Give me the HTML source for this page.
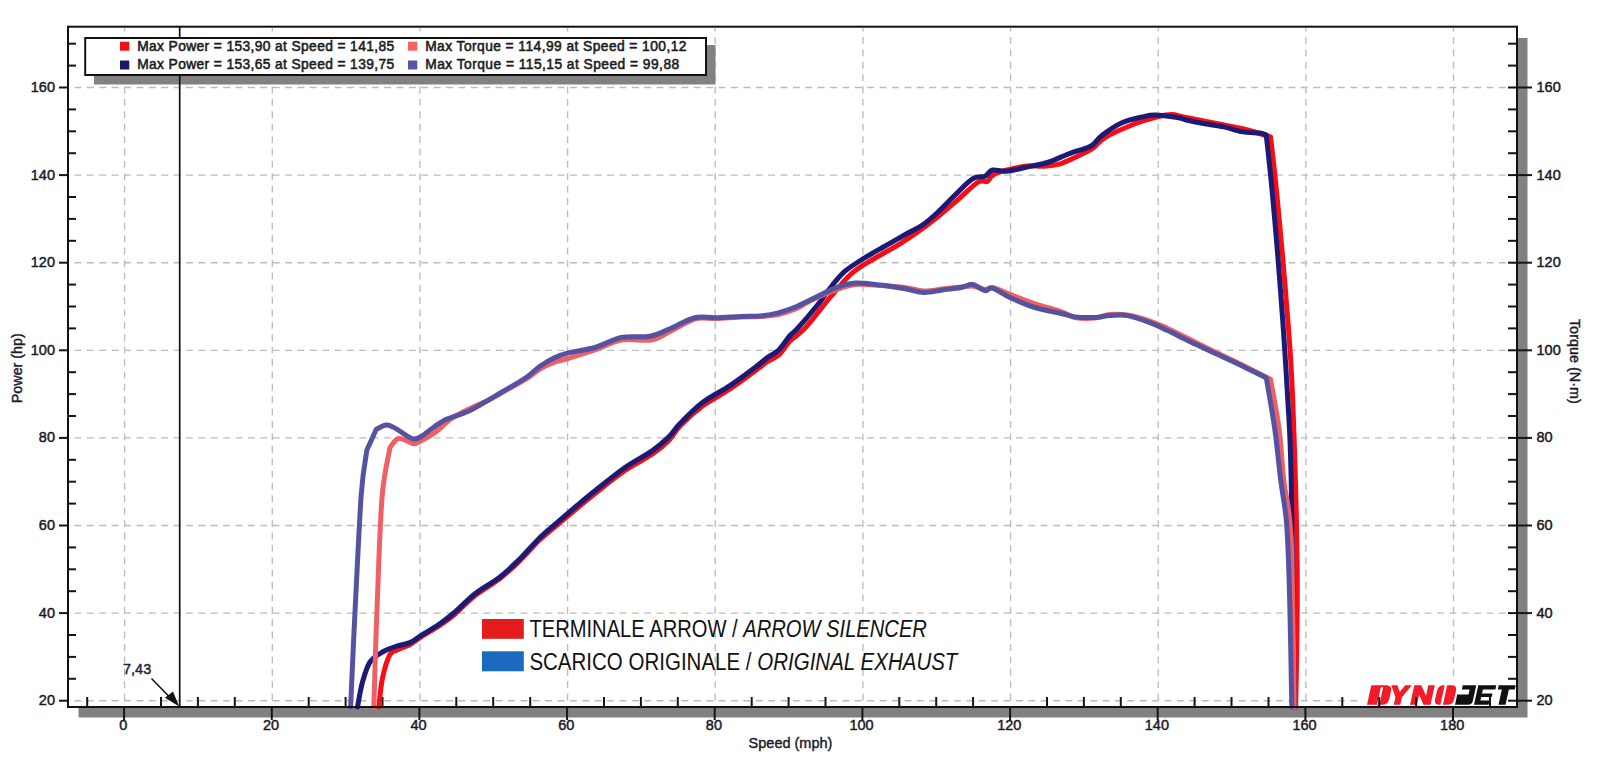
<!DOCTYPE html>
<html><head><meta charset="utf-8"><style>
html,body{margin:0;padding:0;background:#fff;width:1600px;height:763px;overflow:hidden}
svg{display:block}
text{font-family:"Liberation Sans", sans-serif}
</style></head><body>
<svg width="1600" height="763" viewBox="0 0 1600 763">
<rect x="0" y="0" width="1600" height="763" fill="#fff"/>
<rect x="78.5" y="38" width="1449" height="679.5" fill="#818181"/>
<rect x="68" y="26.7" width="1449" height="680.3" fill="#fff"/>

<g stroke="#bcbcbc" stroke-width="1.35" stroke-dasharray="6.9 5.487" fill="none"><line x1="124.6" y1="28" x2="124.6" y2="706" stroke-dashoffset="3.35"/><line x1="272.3" y1="28" x2="272.3" y2="706" stroke-dashoffset="3.35"/><line x1="419.9" y1="28" x2="419.9" y2="706" stroke-dashoffset="3.35"/><line x1="567.6" y1="28" x2="567.6" y2="706" stroke-dashoffset="3.35"/><line x1="715.2" y1="28" x2="715.2" y2="706" stroke-dashoffset="3.35"/><line x1="862.9" y1="28" x2="862.9" y2="706" stroke-dashoffset="3.35"/><line x1="1010.6" y1="28" x2="1010.6" y2="706" stroke-dashoffset="3.35"/><line x1="1158.2" y1="28" x2="1158.2" y2="706" stroke-dashoffset="3.35"/><line x1="1305.9" y1="28" x2="1305.9" y2="706" stroke-dashoffset="3.35"/><line x1="1453.5" y1="28" x2="1453.5" y2="706" stroke-dashoffset="3.35"/><line x1="70" y1="700.7" x2="1516" y2="700.7" stroke-dashoffset="7.9"/><line x1="70" y1="613.1" x2="1516" y2="613.1" stroke-dashoffset="7.9"/><line x1="70" y1="525.5" x2="1516" y2="525.5" stroke-dashoffset="7.9"/><line x1="70" y1="437.9" x2="1516" y2="437.9" stroke-dashoffset="7.9"/><line x1="70" y1="350.3" x2="1516" y2="350.3" stroke-dashoffset="7.9"/><line x1="70" y1="262.7" x2="1516" y2="262.7" stroke-dashoffset="7.9"/><line x1="70" y1="175.1" x2="1516" y2="175.1" stroke-dashoffset="7.9"/><line x1="70" y1="87.5" x2="1516" y2="87.5" stroke-dashoffset="7.9"/></g>
<rect x="1362" y="681" width="154" height="25" fill="#fff"/>
<g transform="matrix(1,0,-0.22,1,4.29,685.2)" fill-rule="evenodd">
<path fill="#f31a2a" d="M1367,0 H1382 Q1388,0 1388,6 V13.5 Q1388,19.5 1382,19.5 H1367 Z M1377,2 H1379.3 V20 H1377 Z"/>
<path fill="#f31a2a" d="M1387,0 H1393 L1397,6.5 L1401,0 H1407.5 L1400.3,12 V19.5 H1393.8 V12 Z"/>
<path fill="#f31a2a" d="M1410,0 H1417 L1424,10.5 V0 H1430.5 V19.5 H1423.5 L1417,9.5 V19.5 H1410 Z"/>
<path fill="#f31a2a" d="M1439.4,0 H1440.4 V19.5 H1439.4 Q1433.9,19.5 1433.9,14 V5.5 Q1433.9,0 1439.4,0 Z M1442.9,0 H1447.4 Q1452.9,0 1452.9,5.5 V14 Q1452.9,19.5 1447.4,19.5 H1442.9 Z"/>
<path fill="#111" d="M1458.5,0 H1472 V15.5 Q1472,19.5 1468,19.5 H1455 V9.4 H1466.3 V4.2 H1458.5 Z"/>
<path fill="#111" d="M1474,0 H1492 V4.2 H1479.5 V8.3 H1490 V11.8 H1479.5 V15.3 H1488.6 V19.5 H1474 Z"/>
<path fill="#111" d="M1494.4,0 H1511.4 V4.2 H1505.5 V19.5 H1498.5 V4.2 H1494.4 Z"/>
</g>
<g stroke="#151515" stroke-width="2" fill="none"><line x1="59" y1="700.7" x2="68" y2="700.7"/><line x1="1508" y1="700.7" x2="1532" y2="700.7"/><line x1="68" y1="678.8" x2="76" y2="678.8"/><line x1="1508" y1="678.8" x2="1517" y2="678.8"/><line x1="68" y1="656.9" x2="76" y2="656.9"/><line x1="1508" y1="656.9" x2="1517" y2="656.9"/><line x1="68" y1="635.0" x2="76" y2="635.0"/><line x1="1508" y1="635.0" x2="1517" y2="635.0"/><line x1="59" y1="613.1" x2="68" y2="613.1"/><line x1="1508" y1="613.1" x2="1532" y2="613.1"/><line x1="68" y1="591.2" x2="76" y2="591.2"/><line x1="1508" y1="591.2" x2="1517" y2="591.2"/><line x1="68" y1="569.3" x2="76" y2="569.3"/><line x1="1508" y1="569.3" x2="1517" y2="569.3"/><line x1="68" y1="547.4" x2="76" y2="547.4"/><line x1="1508" y1="547.4" x2="1517" y2="547.4"/><line x1="59" y1="525.5" x2="68" y2="525.5"/><line x1="1508" y1="525.5" x2="1532" y2="525.5"/><line x1="68" y1="503.6" x2="76" y2="503.6"/><line x1="1508" y1="503.6" x2="1517" y2="503.6"/><line x1="68" y1="481.7" x2="76" y2="481.7"/><line x1="1508" y1="481.7" x2="1517" y2="481.7"/><line x1="68" y1="459.8" x2="76" y2="459.8"/><line x1="1508" y1="459.8" x2="1517" y2="459.8"/><line x1="59" y1="437.9" x2="68" y2="437.9"/><line x1="1508" y1="437.9" x2="1532" y2="437.9"/><line x1="68" y1="416.0" x2="76" y2="416.0"/><line x1="1508" y1="416.0" x2="1517" y2="416.0"/><line x1="68" y1="394.1" x2="76" y2="394.1"/><line x1="1508" y1="394.1" x2="1517" y2="394.1"/><line x1="68" y1="372.2" x2="76" y2="372.2"/><line x1="1508" y1="372.2" x2="1517" y2="372.2"/><line x1="59" y1="350.3" x2="68" y2="350.3"/><line x1="1508" y1="350.3" x2="1532" y2="350.3"/><line x1="68" y1="328.4" x2="76" y2="328.4"/><line x1="1508" y1="328.4" x2="1517" y2="328.4"/><line x1="68" y1="306.5" x2="76" y2="306.5"/><line x1="1508" y1="306.5" x2="1517" y2="306.5"/><line x1="68" y1="284.6" x2="76" y2="284.6"/><line x1="1508" y1="284.6" x2="1517" y2="284.6"/><line x1="59" y1="262.7" x2="68" y2="262.7"/><line x1="1508" y1="262.7" x2="1532" y2="262.7"/><line x1="68" y1="240.8" x2="76" y2="240.8"/><line x1="1508" y1="240.8" x2="1517" y2="240.8"/><line x1="68" y1="218.9" x2="76" y2="218.9"/><line x1="1508" y1="218.9" x2="1517" y2="218.9"/><line x1="68" y1="197.0" x2="76" y2="197.0"/><line x1="1508" y1="197.0" x2="1517" y2="197.0"/><line x1="59" y1="175.1" x2="68" y2="175.1"/><line x1="1508" y1="175.1" x2="1532" y2="175.1"/><line x1="68" y1="153.2" x2="76" y2="153.2"/><line x1="1508" y1="153.2" x2="1517" y2="153.2"/><line x1="68" y1="131.3" x2="76" y2="131.3"/><line x1="1508" y1="131.3" x2="1517" y2="131.3"/><line x1="68" y1="109.4" x2="76" y2="109.4"/><line x1="1508" y1="109.4" x2="1517" y2="109.4"/><line x1="59" y1="87.5" x2="68" y2="87.5"/><line x1="1508" y1="87.5" x2="1532" y2="87.5"/><line x1="68" y1="65.6" x2="76" y2="65.6"/><line x1="1508" y1="65.6" x2="1517" y2="65.6"/><line x1="68" y1="43.7" x2="76" y2="43.7"/><line x1="1508" y1="43.7" x2="1517" y2="43.7"/><line x1="87.2" y1="697" x2="87.2" y2="707"/><line x1="124.1" y1="707" x2="124.1" y2="720"/><line x1="161.0" y1="697" x2="161.0" y2="707"/><line x1="197.9" y1="697" x2="197.9" y2="707"/><line x1="234.8" y1="697" x2="234.8" y2="707"/><line x1="271.8" y1="707" x2="271.8" y2="720"/><line x1="308.7" y1="697" x2="308.7" y2="707"/><line x1="345.6" y1="697" x2="345.6" y2="707"/><line x1="382.5" y1="697" x2="382.5" y2="707"/><line x1="419.4" y1="707" x2="419.4" y2="720"/><line x1="456.3" y1="697" x2="456.3" y2="707"/><line x1="493.2" y1="697" x2="493.2" y2="707"/><line x1="530.2" y1="697" x2="530.2" y2="707"/><line x1="567.1" y1="707" x2="567.1" y2="720"/><line x1="604.0" y1="697" x2="604.0" y2="707"/><line x1="640.9" y1="697" x2="640.9" y2="707"/><line x1="677.8" y1="697" x2="677.8" y2="707"/><line x1="714.7" y1="707" x2="714.7" y2="720"/><line x1="751.7" y1="697" x2="751.7" y2="707"/><line x1="788.6" y1="697" x2="788.6" y2="707"/><line x1="825.5" y1="697" x2="825.5" y2="707"/><line x1="862.4" y1="707" x2="862.4" y2="720"/><line x1="899.3" y1="697" x2="899.3" y2="707"/><line x1="936.2" y1="697" x2="936.2" y2="707"/><line x1="973.1" y1="697" x2="973.1" y2="707"/><line x1="1010.1" y1="707" x2="1010.1" y2="720"/><line x1="1047.0" y1="697" x2="1047.0" y2="707"/><line x1="1083.9" y1="697" x2="1083.9" y2="707"/><line x1="1120.8" y1="697" x2="1120.8" y2="707"/><line x1="1157.7" y1="707" x2="1157.7" y2="720"/><line x1="1194.6" y1="697" x2="1194.6" y2="707"/><line x1="1231.5" y1="697" x2="1231.5" y2="707"/><line x1="1268.5" y1="697" x2="1268.5" y2="707"/><line x1="1305.4" y1="707" x2="1305.4" y2="720"/><line x1="1342.3" y1="697" x2="1342.3" y2="707"/><line x1="1379.2" y1="697" x2="1379.2" y2="707"/><line x1="1416.1" y1="697" x2="1416.1" y2="707"/><line x1="1453.0" y1="707" x2="1453.0" y2="720"/><line x1="1490.0" y1="697" x2="1490.0" y2="707"/></g>
<g fill="none" stroke-width="5" stroke-linejoin="round" stroke-linecap="round">
<path d="M378.8,707.0 C379.4,702.2 380.6,686.8 382.5,678.0 C384.4,669.2 387.1,659.4 390.0,654.5 C392.9,649.6 396.7,650.6 400.0,648.9 C403.3,647.2 406.2,646.6 410.0,644.5 C413.8,642.4 417.7,639.1 422.5,636.0 C427.3,632.9 433.3,629.7 438.8,626.0 C444.2,622.3 449.0,619.1 455.0,614.0 C461.0,608.9 467.5,601.4 475.0,595.5 C482.5,589.6 492.5,584.3 500.0,578.5 C507.5,572.7 513.3,567.0 520.0,560.5 C526.7,554.0 533.5,545.7 540.0,539.5 C546.5,533.3 552.7,528.6 558.8,523.5 C564.8,518.4 569.8,514.3 576.2,509.0 C582.7,503.7 589.4,497.9 597.5,491.5 C605.6,485.1 615.8,476.8 625.0,470.5 C634.2,464.2 645.2,459.0 652.5,454.0 C659.8,449.0 664.2,445.2 668.8,440.5 C673.3,435.8 674.4,431.8 680.0,426.0 C685.6,420.2 694.2,412.2 702.5,406.0 C710.8,399.8 721.2,394.8 730.0,389.0 C738.8,383.2 748.8,375.6 755.0,371.0 C761.2,366.4 763.5,364.2 767.5,361.5 C771.5,358.8 775.0,358.4 778.8,355.0 C782.5,351.6 785.6,345.5 790.0,341.0 C794.4,336.5 798.3,335.4 805.0,328.1 C811.7,320.9 822.5,306.4 830.0,297.5 C837.5,288.6 843.8,280.8 850.0,275.0 C856.2,269.2 859.2,267.7 867.5,262.5 C875.8,257.3 891.9,248.7 900.0,243.8 C908.1,238.8 910.0,237.6 916.2,233.1 C922.5,228.6 930.8,222.3 937.5,217.0 C944.2,211.7 949.6,207.0 956.2,201.2 C962.9,195.5 972.3,185.8 977.5,182.5 C982.7,179.2 984.6,182.7 987.5,181.2 C990.4,179.8 988.8,176.2 995.0,173.8 C1001.2,171.2 1016.9,167.5 1025.0,166.2 C1033.1,165.0 1037.9,166.7 1043.8,166.2 C1049.6,165.8 1054.4,165.4 1060.0,163.8 C1065.6,162.1 1072.1,158.8 1077.5,156.2 C1082.9,153.7 1087.9,151.6 1092.5,148.5 C1097.1,145.4 1097.9,141.6 1105.0,137.5 C1112.1,133.4 1126.7,127.1 1135.0,123.8 C1143.3,120.4 1149.0,119.0 1155.0,117.5 C1161.0,116.0 1166.0,114.5 1171.2,114.5 C1176.5,114.5 1178.5,116.0 1186.2,117.5 C1194.0,119.0 1208.1,121.9 1217.5,123.8 C1226.9,125.6 1233.7,126.6 1242.5,128.8 C1251.3,130.9 1265.9,135.5 1270.6,136.9 C1271.6,146.6 1274.3,167.8 1276.9,195.0 C1279.5,222.2 1283.7,266.7 1286.2,300.0 C1288.8,333.3 1290.7,350.0 1292.5,395.0 C1294.3,440.0 1296.7,518.0 1297.2,570.0 C1297.7,622.0 1296.0,684.2 1295.7,707.0" stroke="#fa0c14"/>
<path d="M357.5,707.0 C358.3,702.8 360.4,689.5 362.5,682.0 C364.6,674.5 366.7,667.0 370.0,662.0 C373.3,657.0 377.9,654.7 382.5,652.0 C387.1,649.3 392.9,647.3 397.5,645.8 C402.1,644.2 405.8,644.5 410.0,642.6 C414.2,640.7 417.7,637.5 422.5,634.5 C427.3,631.5 433.3,628.2 438.8,624.5 C444.2,620.8 449.0,617.1 455.0,612.0 C461.0,606.9 467.5,599.6 475.0,593.8 C482.5,587.9 492.5,582.7 500.0,576.9 C507.5,571.1 513.3,565.3 520.0,558.8 C526.7,552.2 533.5,543.8 540.0,537.5 C546.5,531.2 552.7,526.5 558.8,521.2 C564.8,516.0 569.8,511.7 576.2,506.2 C582.7,500.8 589.4,495.2 597.5,488.8 C605.6,482.3 615.8,473.9 625.0,467.5 C634.2,461.1 645.2,455.7 652.5,450.6 C659.8,445.5 664.2,441.4 668.8,436.9 C673.3,432.4 674.4,429.2 680.0,423.5 C685.6,417.8 694.2,408.8 702.5,402.5 C710.8,396.2 721.2,391.4 730.0,385.6 C738.8,379.8 748.8,372.2 755.0,367.5 C761.2,362.8 763.5,360.4 767.5,357.5 C771.5,354.6 775.0,353.7 778.8,350.0 C782.5,346.3 786.9,339.1 790.0,335.5 C793.1,331.9 792.9,333.6 797.5,328.5 C802.1,323.4 811.7,312.2 817.5,305.0 C823.3,297.8 827.9,290.6 832.5,285.0 C837.1,279.4 840.2,275.4 845.0,271.2 C849.8,267.1 855.0,264.0 861.2,260.0 C867.5,256.0 875.0,251.8 882.5,247.5 C890.0,243.2 899.6,237.8 906.2,234.0 C912.9,230.2 917.3,228.6 922.5,225.0 C927.7,221.4 932.1,217.5 937.5,212.5 C942.9,207.5 949.2,200.6 955.0,195.0 C960.8,189.4 967.5,181.9 972.5,178.8 C977.5,175.6 981.7,177.7 985.0,176.2 C988.3,174.8 989.0,170.8 992.5,170.0 C996.0,169.2 1000.8,171.7 1006.2,171.2 C1011.7,170.8 1018.1,169.0 1025.0,167.5 C1031.9,166.0 1040.2,164.8 1047.5,162.5 C1054.8,160.2 1062.7,156.0 1068.8,153.8 C1074.8,151.5 1079.8,150.2 1083.8,148.8 C1087.7,147.3 1089.4,147.3 1092.5,145.0 C1095.6,142.7 1097.5,138.8 1102.5,135.0 C1107.5,131.2 1115.8,125.5 1122.5,122.5 C1129.2,119.5 1137.1,118.2 1142.5,116.9 C1147.9,115.7 1149.2,114.9 1155.0,115.0 C1160.8,115.1 1172.3,116.7 1177.5,117.5 C1182.7,118.3 1181.7,119.0 1186.2,120.0 C1190.8,121.0 1198.8,122.6 1205.0,123.8 C1211.2,124.9 1217.5,125.5 1223.8,126.9 C1230.0,128.3 1236.5,130.9 1242.5,131.9 C1248.5,132.9 1256.0,132.6 1260.0,133.1 C1264.0,133.6 1265.2,134.7 1266.2,135.0 C1267.3,145.0 1270.0,167.5 1272.5,195.0 C1275.0,222.5 1278.8,266.7 1281.2,300.0 C1283.8,333.3 1285.8,365.0 1287.5,395.0 C1289.2,425.0 1290.1,428.0 1291.2,480.0 C1292.3,532.0 1293.7,669.2 1294.2,707.0" stroke="#1b1a74"/>
<path d="M373.8,707.0 C374.3,691.2 375.5,646.8 376.9,612.0 C378.3,577.2 379.8,525.4 382.0,498.0 C384.2,470.6 388.7,455.9 390.0,447.5 C391.2,446.0 395.0,440.0 397.5,438.8 C400.0,437.5 402.3,439.2 405.0,440.0 C407.7,440.8 410.8,443.8 413.8,443.8 C416.7,443.8 419.0,441.9 422.5,440.0 C426.0,438.1 430.2,436.0 435.0,432.5 C439.8,429.0 445.4,422.8 451.2,418.8 C457.1,414.8 463.8,411.6 470.0,408.5 C476.2,405.4 483.5,402.6 488.8,400.0 C494.0,397.4 495.0,396.5 501.2,393.0 C507.5,389.5 519.8,383.0 526.2,379.0 C532.7,375.0 535.2,371.8 540.0,369.0 C544.8,366.2 550.3,363.8 555.0,362.0 C559.7,360.2 561.1,360.6 568.0,358.5 C574.9,356.4 587.4,352.6 596.3,349.5 C605.2,346.4 612.3,341.6 621.5,340.0 C630.7,338.4 643.1,341.5 651.4,340.0 C659.6,338.5 663.8,334.5 671.0,331.0 C678.2,327.5 687.2,321.1 694.6,319.0 C702.0,316.9 707.6,318.8 715.5,318.5 C723.4,318.2 734.4,317.3 741.8,317.0 C749.2,316.7 753.9,316.9 760.0,316.5 C766.1,316.1 772.2,315.8 778.3,314.5 C784.4,313.2 791.9,310.5 796.7,308.5 C801.5,306.5 802.6,304.8 807.0,302.5 C811.4,300.2 818.0,297.1 822.8,295.0 C827.6,292.9 830.4,291.6 835.9,289.8 C841.4,288.1 848.1,285.2 855.5,284.5 C862.9,283.8 871.8,285.0 880.0,285.5 C888.2,286.0 897.7,286.6 905.0,287.5 C912.3,288.4 917.5,290.8 923.8,291.0 C930.0,291.2 936.2,289.7 942.5,289.0 C948.8,288.3 956.2,287.5 961.2,287.0 C966.2,286.5 968.5,285.6 972.5,286.0 C976.5,286.4 981.7,289.2 985.0,289.5 C988.3,289.8 988.3,286.7 992.5,287.5 C996.7,288.3 1002.9,291.7 1010.0,294.4 C1017.1,297.1 1026.2,300.8 1035.0,303.8 C1043.8,306.7 1055.8,309.7 1062.5,312.0 C1069.2,314.3 1069.6,316.5 1075.0,317.5 C1080.4,318.5 1089.2,318.5 1095.0,318.0 C1100.8,317.5 1104.6,315.0 1110.0,314.5 C1115.4,314.0 1120.6,313.8 1127.5,315.0 C1134.4,316.2 1144.5,319.2 1151.2,321.5 C1158.0,323.8 1161.5,325.7 1167.7,328.5 C1173.9,331.3 1181.2,335.0 1188.2,338.5 C1195.2,342.0 1200.8,345.0 1210.0,349.5 C1219.2,354.0 1233.1,360.5 1243.2,365.5 C1253.3,370.5 1266.0,377.0 1270.6,379.3 C1272.0,387.7 1277.0,413.0 1279.2,429.8 C1281.4,446.6 1281.7,461.6 1283.7,480.0 C1285.7,498.4 1289.5,502.2 1291.2,540.0 C1293.0,577.8 1293.7,679.2 1294.2,707.0" stroke="#ef5f66"/>
<path d="M350.6,707.0 C351.3,691.2 353.2,647.3 355.0,612.0 C356.8,576.7 359.3,522.0 361.2,495.0 C363.2,468.0 366.0,457.5 366.9,450.0 C368.5,446.6 374.7,432.8 376.2,429.4 C377.9,428.7 383.1,425.2 386.2,425.0 C389.4,424.8 390.6,425.8 395.0,428.1 C399.4,430.4 407.9,437.5 412.5,438.8 C417.1,440.0 419.6,437.1 422.5,435.6 C425.4,434.1 426.2,432.6 430.0,430.0 C433.8,427.4 438.3,423.2 445.0,420.0 C451.7,416.8 460.6,415.1 470.0,410.5 C479.4,405.9 491.9,398.0 501.2,392.5 C510.6,387.0 519.8,381.9 526.2,377.5 C532.7,373.1 535.2,369.6 540.0,366.2 C544.8,362.9 550.4,359.7 555.0,357.5 C559.6,355.3 560.8,354.8 567.5,353.1 C574.2,351.4 586.0,350.1 595.0,347.5 C604.0,344.9 612.1,339.4 621.2,337.5 C630.4,335.6 641.9,337.7 650.0,336.2 C658.1,334.8 662.6,331.8 670.0,328.8 C677.4,325.7 687.0,319.5 694.6,317.7 C702.2,315.9 707.6,317.9 715.5,317.7 C723.4,317.5 734.4,316.7 741.8,316.4 C749.2,316.1 753.9,316.6 760.0,316.0 C766.1,315.4 772.2,314.4 778.3,312.8 C784.4,311.2 791.9,308.4 796.7,306.5 C801.5,304.6 802.6,303.6 807.0,301.5 C811.4,299.4 818.0,296.0 822.8,293.7 C827.6,291.4 830.5,289.6 835.9,287.8 C841.3,286.0 847.6,283.6 855.0,283.1 C862.4,282.6 871.7,284.1 880.0,285.0 C888.3,285.9 897.7,287.5 905.0,288.8 C912.3,290.0 917.5,292.3 923.8,292.5 C930.0,292.7 936.2,290.8 942.5,290.0 C948.8,289.2 956.2,288.4 961.2,287.5 C966.2,286.6 968.5,283.9 972.5,284.4 C976.5,284.9 981.7,290.0 985.0,290.6 C988.3,291.2 988.3,287.0 992.5,288.1 C996.7,289.2 1002.9,294.3 1010.0,297.5 C1017.1,300.7 1026.2,304.8 1035.0,307.5 C1043.8,310.2 1055.8,312.2 1062.5,313.8 C1069.2,315.3 1069.6,316.3 1075.0,316.9 C1080.4,317.5 1089.2,317.7 1095.0,317.5 C1100.8,317.3 1104.6,315.9 1110.0,315.6 C1115.4,315.3 1120.6,314.4 1127.5,315.6 C1134.4,316.9 1144.5,320.6 1151.2,323.1 C1158.0,325.6 1161.5,327.7 1167.7,330.6 C1173.9,333.6 1181.2,337.4 1188.2,340.8 C1195.2,344.2 1200.8,346.7 1210.0,351.0 C1219.2,355.3 1233.8,361.9 1243.2,366.4 C1252.6,370.9 1262.5,376.0 1266.3,377.9 C1267.7,386.5 1272.5,412.8 1274.9,429.8 C1277.3,446.8 1278.7,464.1 1280.7,480.0 C1282.7,495.9 1285.2,504.9 1286.7,525.0 C1288.2,545.1 1288.9,570.2 1289.7,600.5 C1290.5,630.8 1291.5,689.2 1291.8,707.0" stroke="#55529f"/>
</g>
<line x1="151.5" y1="678.5" x2="170" y2="697.5" stroke="#111" stroke-width="1.5"/>
<polygon points="179.2,706.5 165,697.8 173,691.5" fill="#111"/>
<text x="123" y="673.6" font-size="14.5" fill="#1e1e3c" stroke="#1e1e3c" stroke-width="0.45">7,43</text>
<rect x="68" y="26.7" width="1449" height="680.3" fill="none" stroke="#111" stroke-width="2"/>
<g font-size="14.5" fill="#181828" stroke="#181828" stroke-width="0.45"><text x="55" y="705.2" text-anchor="end">20</text><text x="1536.5" y="705.2">20</text><text x="55" y="617.6" text-anchor="end">40</text><text x="1536.5" y="617.6">40</text><text x="55" y="530.0" text-anchor="end">60</text><text x="1536.5" y="530.0">60</text><text x="55" y="442.4" text-anchor="end">80</text><text x="1536.5" y="442.4">80</text><text x="55" y="354.8" text-anchor="end">100</text><text x="1536.5" y="354.8">100</text><text x="55" y="267.2" text-anchor="end">120</text><text x="1536.5" y="267.2">120</text><text x="55" y="179.6" text-anchor="end">140</text><text x="1536.5" y="179.6">140</text><text x="55" y="92.0" text-anchor="end">160</text><text x="1536.5" y="92.0">160</text><text x="123.3" y="729.6" text-anchor="middle">0</text><text x="271.0" y="729.6" text-anchor="middle">20</text><text x="418.6" y="729.6" text-anchor="middle">40</text><text x="566.3" y="729.6" text-anchor="middle">60</text><text x="713.9" y="729.6" text-anchor="middle">80</text><text x="861.6" y="729.6" text-anchor="middle">100</text><text x="1009.3" y="729.6" text-anchor="middle">120</text><text x="1156.9" y="729.6" text-anchor="middle">140</text><text x="1304.6" y="729.6" text-anchor="middle">160</text><text x="1452.2" y="729.6" text-anchor="middle">180</text></g>
<text x="790.5" y="748" font-size="14.5" text-anchor="middle" fill="#1a1a2a" stroke="#1a1a2a" stroke-width="0.4">Speed (mph)</text>
<text transform="translate(22.3,368.2) rotate(-90)" font-size="14.5" text-anchor="middle" fill="#1a1a2a" stroke="#1a1a2a" stroke-width="0.4" textLength="70" lengthAdjust="spacingAndGlyphs">Power (hp)</text>
<text transform="translate(1569.5,361.4) rotate(90)" font-size="14.5" text-anchor="middle" fill="#1a1a2a" stroke="#1a1a2a" stroke-width="0.4" textLength="85" lengthAdjust="spacingAndGlyphs">Torque (N·m)</text>
<rect x="94" y="45" width="621.5" height="39.5" fill="#818181"/>
<line x1="179.7" y1="27" x2="179.7" y2="707" stroke="#111" stroke-width="1.7"/>
<rect x="85.2" y="38" width="620.8" height="37" fill="#fff" stroke="#111" stroke-width="2"/>
<rect x="120" y="41.7" width="9.3" height="9" fill="#ee0f16"/>
<rect x="120" y="60.5" width="9.3" height="9" fill="#1a1a6a"/>
<rect x="408" y="41.7" width="9.3" height="9" fill="#f46262"/>
<rect x="408" y="60.5" width="9.3" height="9" fill="#5656a6"/>
<g font-size="13.8" fill="#1c1c1c" stroke="#1c1c1c" stroke-width="0.55">
<text x="137.2" y="50.6" textLength="257" lengthAdjust="spacing">Max Power = 153,90 at Speed = 141,85</text>
<text x="137.2" y="68.6" textLength="257" lengthAdjust="spacing">Max Power = 153,65 at Speed = 139,75</text>
<text x="425.2" y="50.6" textLength="261.3" lengthAdjust="spacing">Max Torque = 114,99 at Speed = 100,12</text>
<text x="425.2" y="68.6" textLength="254" lengthAdjust="spacing">Max Torque = 115,15 at Speed = 99,88</text>
</g>
<rect x="482" y="619" width="41.8" height="19.8" fill="#e41c1c"/>
<rect x="482" y="651.3" width="41.8" height="20" fill="#1a6ac0"/>
<g font-size="24.7" fill="#111">
<text x="529.4" y="637" textLength="397.5" lengthAdjust="spacingAndGlyphs">TERMINALE ARROW / <tspan font-style="italic">ARROW SILENCER</tspan></text>
<text x="529.4" y="669.7" textLength="428" lengthAdjust="spacingAndGlyphs">SCARICO ORIGINALE / <tspan font-style="italic">ORIGINAL EXHAUST</tspan></text>
</g>
</svg></body></html>
